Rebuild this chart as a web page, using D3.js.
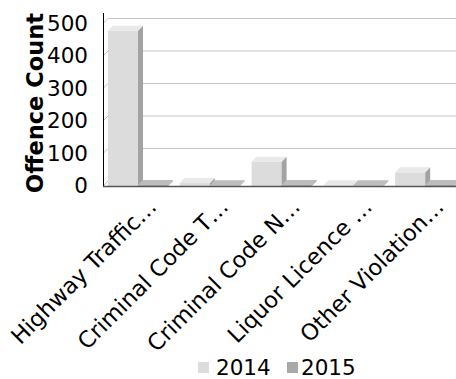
<!DOCTYPE html>
<html>
<head>
<meta charset="utf-8">
<script src="https://cdn.jsdelivr.net/npm/d3@7"></script>
<style>
  html, body { margin: 0; padding: 0; background: #fff; }
  svg { display: block; font-family: "DejaVu Sans", Verdana, sans-serif; }
</style>
</head>
<body>
<svg id="chart" width="456" height="379"></svg>
<script>
// Offence counts by category and year
const categories = ["Highway Traffic…", "Criminal Code T…", "Criminal Code N…", "Liquor Licence …", "Other Violation…"];
const years = ["2014", "2015"];
const values2014 = [478, 9, 75, 2, 42];
const values2015 = [3, 2, 3, 2, 3];
const yTicks = [0, 100, 200, 300, 400, 500];

const series = [
  { key: "2014", values: values2014, front: "#dcdcdc", top: "#e9e9e9", side: "#a3a3a3" },
  { key: "2015", values: values2015, front: "#a9a9a9", top: "#bdbdbd", side: "#8a8a8a" }
];

const svg = d3.select("#chart");
const depth = 5;
const left = 103, floorY = 186;

const x0 = d3.scaleBand().domain(categories).range([left, left + 5 * 71.8]).padding(0);
const x1 = d3.scaleBand().domain(years).range([5, 65]).padding(0);
const y = d3.scaleLinear().domain([0, 500]).range([floorY, 23.5]);

// gridlines on the back wall, with their slanted segment on the side wall
const grid = svg.append("g");
yTicks.forEach(t => {
  const yy = y(t);
  grid.append("line")
    .attr("x1", left).attr("y1", yy).attr("x2", left + depth).attr("y2", yy - depth)
    .attr("stroke", "#c4c4c4").attr("stroke-width", 1);
  if (t > 0) {
    grid.append("line")
      .attr("x1", left + depth).attr("y1", yy - depth).attr("x2", 456).attr("y2", yy - depth)
      .attr("stroke", "#c4c4c4").attr("stroke-width", 1);
  }
});

// 3D columns, drawn left to right so neighbours overlap correctly
const bars = svg.append("g");
categories.forEach((c, i) => {
  series.forEach(s => {
    const v = s.values[i];
    const bx = x0(c) + x1(s.key);
    const w = x1.bandwidth();
    const yt = y(v), yb = y(0);
    const g = bars.append("g");
    g.append("rect").attr("x", bx).attr("y", yt).attr("width", w).attr("height", yb - yt)
      .attr("fill", s.front);
    g.append("polygon")
      .attr("points", [[bx + w, yt], [bx + w + depth, yt - depth], [bx + w + depth, yb - depth], [bx + w, yb]].join(" "))
      .attr("fill", s.side);
    g.append("polygon")
      .attr("points", [[bx, yt], [bx + depth, yt - depth], [bx + w + depth, yt - depth], [bx + w, yt]].join(" "))
      .attr("fill", s.top);
  });
});

// axes lines
svg.append("line").attr("x1", left + 0.5).attr("y1", 13).attr("x2", left + 0.5).attr("y2", floorY + 1)
  .attr("stroke", "#000").attr("stroke-width", 1);
svg.append("line").attr("x1", left).attr("y1", floorY + 0.5).attr("x2", 456).attr("y2", floorY + 0.5)
  .attr("stroke", "#555").attr("stroke-width", 1.5);

// value axis labels
const yAxis = d3.axisLeft(y).tickValues(yTicks).tickSize(0).tickPadding(0);
const yg = svg.append("g").attr("transform", `translate(88,0)`).call(yAxis);
yg.select(".domain").remove();
yg.selectAll("text").attr("font-size", 21.5).attr("fill", "#000")
  .attr("font-family", '"DejaVu Sans", Verdana, sans-serif');

// axis title
svg.append("text")
  .attr("transform", `translate(43,${103}) rotate(-90)`)
  .attr("text-anchor", "middle")
  .attr("font-size", 22.5).attr("font-weight", "bold").attr("fill", "#000")
  .text("Offence Count");

// category labels, rotated
const xg = svg.append("g");
categories.forEach(c => {
  const ax = x0(c) + x0.bandwidth() / 2 + 19;
  xg.append("text")
    .attr("transform", `translate(${ax},208) rotate(-45)`)
    .attr("text-anchor", "end")
    .attr("font-size", 22.5).attr("fill", "#000")
    .text(c);
});

// legend
const legend = svg.append("g");
const legendItems = [
  { key: "2014", color: "#dcdcdc", mx: 198, tx: 216 },
  { key: "2015", color: "#a9a9a9", mx: 287, tx: 301 }
];
legendItems.forEach(d => {
  legend.append("rect").attr("x", d.mx).attr("y", 362).attr("width", 11).attr("height", 11).attr("fill", d.color);
  legend.append("text").attr("x", d.tx).attr("y", 375).attr("font-size", 21.5).attr("fill", "#000").text(d.key);
});
</script>
</body>
</html>
